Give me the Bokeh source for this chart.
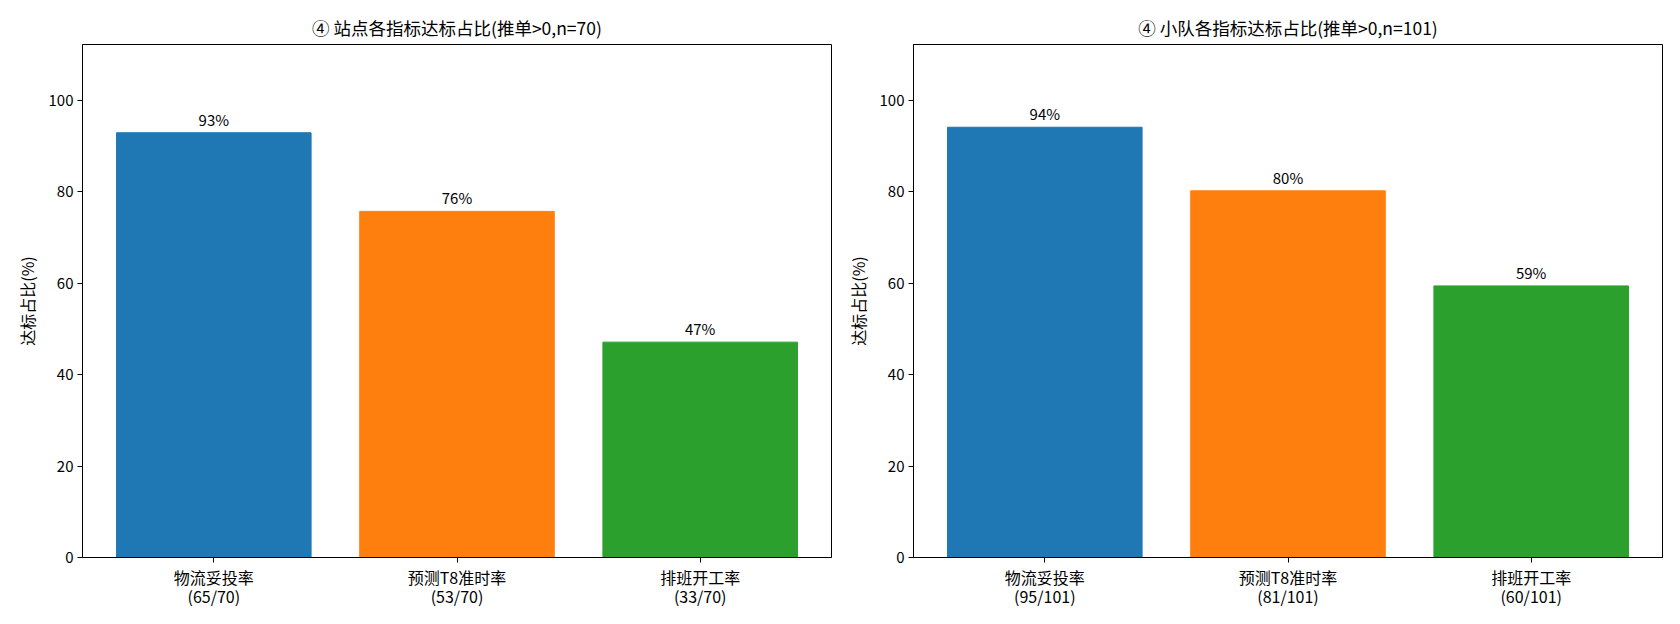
from bokeh.plotting import figure
from bokeh.layouts import row
from bokeh.models import ColumnDataSource, Range1d, FixedTicker
from bokeh.core.properties import value
from bokeh.embed import file_html
from bokeh.resources import INLINE

# 指标名称
metrics = ["物流妥投率", "预测T8准时率", "排班开工率"]
colors = ["#1f77b4", "#ff7f0e", "#2ca02c"]

# 站点 (n=70)
site_hits = [65, 53, 33]
site_total = 70
site_pct = [92.9, 75.7, 47.1]
site_labels = ["93%", "76%", "47%"]

# 小队 (n=101)
team_hits = [95, 81, 60]
team_total = 101
team_pct = [94.1, 80.2, 59.4]
team_labels = ["94%", "80%", "59%"]

FONT = "Noto Sans CJK SC"


def make_panel(title, pct, labels, hits, total, border_left):
    p = figure(frame_width=749, frame_height=513, output_backend="svg", toolbar_location=None,
               x_range=Range1d(-0.54, 2.54), y_range=Range1d(0, 112.2),
               min_border_left=border_left, min_border_right=8, min_border_top=44,
               min_border_bottom=58)
    src = ColumnDataSource(dict(x=[0, 1, 2], top=pct, color=colors, label=labels))
    p.vbar(x="x", top="top", width=0.8, color="color", source=src)
    p.text(x="x", y="top", text="label", source=src, text_align="center",
           text_baseline="bottom", y_offset=-3, text_font=value(FONT),
           text_font_size="15px", text_color="black")

    p.title.text = title
    p.title.align = "center"
    p.title.text_font = FONT
    p.title.text_font_size = "17.5px"
    p.title.text_font_style = "normal"
    p.title.text_color = "black"

    p.xgrid.visible = False
    p.ygrid.visible = False
    p.outline_line_color = "black"
    p.outline_line_alpha = 1

    p.xaxis.ticker = FixedTicker(ticks=[0, 1, 2])
    p.xaxis.major_label_overrides = {i: f"{m}\n({h}/{total})" for i, (m, h) in enumerate(zip(metrics, hits))}
    p.yaxis.ticker = FixedTicker(ticks=[0, 20, 40, 60, 80, 100])
    p.yaxis.axis_label = "达标占比(%)"
    for ax in (p.xaxis, p.yaxis):
        ax.axis_line_color = "black"
        ax.major_tick_line_color = "black"
        ax.major_tick_in = 0
        ax.major_tick_out = 5
        ax.minor_tick_line_color = None
        ax.major_label_text_font = FONT
        ax.major_label_text_font_size = "15px"
        ax.major_label_text_color = "black"
        ax.axis_label_text_font = FONT
        ax.axis_label_text_font_size = "16px"
        ax.axis_label_text_font_style = "normal"
        ax.axis_label_text_color = "black"
    p.xaxis.major_label_text_font_size = "16px"
    p.xaxis.major_label_text_line_height = 0.8
    p.xaxis.major_label_standoff = 2
    p.yaxis.major_label_standoff = 4
    p.yaxis.axis_label_standoff = 7
    return p


left = make_panel("④ 站点各指标达标占比(推单>0,n=70)", site_pct, site_labels, site_hits, site_total, 82)
right = make_panel("④ 小队各指标达标占比(推单>0,n=101)", team_pct, team_labels, team_hits, team_total, 74)

layout = row(left, right)
open("out.html", "w").write(file_html(layout, INLINE))
